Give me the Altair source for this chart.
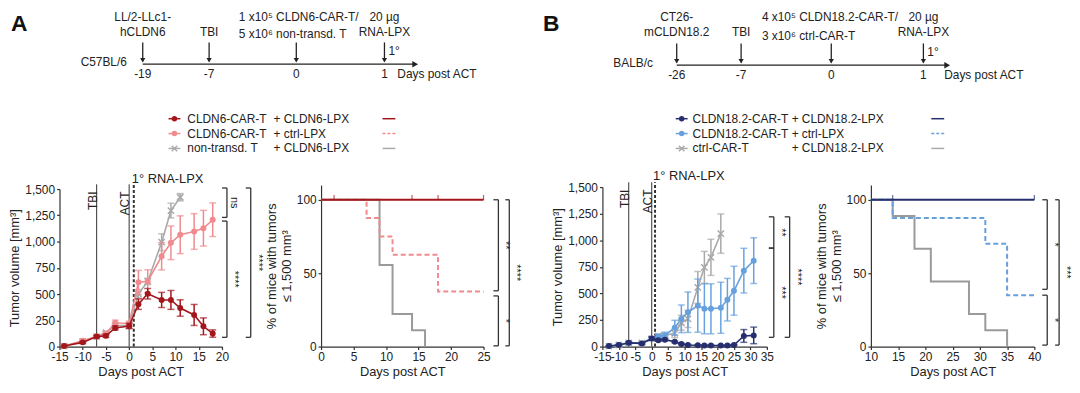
import altair as alt
import pandas as pd

FONT = "Liberation Sans"
INK = "#333333"
TXT = "#222222"
XPATH = "M-1,-1L1,1M-1,1L1,-1"

# ---------------- colours ----------------
DARKRED, PINK, GRAY = "#a3161c", "#f08a8f", "#a9a9a9"
NAVY, LBLUE = "#262e6e", "#66a1dd"
SGRAY = "#9a9a9a"

# ---------------- Panel A : tumour growth (mean +/- SEM) ----------------
a_days = [-14, -10, -7, -5, -3, 0, 2, 4, 7, 9, 11, 14, 16, 18]
a_cldn6_lpx_mean = [5, 40, 95, 102, 177, 196, 404, 503, 444, 444, 367, 301, 193, 124]
a_cldn6_lpx_sem = [4, 8, 10, 15, 20, 25, 50, 50, 72, 90, 78, 100, 80, 35]
a_ctrl_lpx_mean = [5, 56, 95, 125, 227, 217, 612, 621, 860, 988, 1065, 1096, 1127, 1208]
a_ctrl_lpx_sem = [4, 10, 10, 12, 25, 25, 113, 110, 130, 160, 180, 170, 170, 160]
a_nontr_days = [-14, -10, -7, -5, -3, 0, 2, 4, 7, 9, 11]
a_nontr_mean = [5, 50, 95, 133, 200, 200, 503, 620, 994, 1295, 1422]
a_nontr_sem = [4, 10, 10, 12, 20, 25, 40, 30, 80, 70, 35]

# Panel A : % mice with tumours <= 1,500 mm3
a_surv_cldn6_days = [0, 25]
a_surv_cldn6_pct = [100, 100]
a_surv_cldn6_censor = [2, 14, 18, 25]
a_surv_ctrl_days = [0, 7, 9, 11, 18, 25]
a_surv_ctrl_pct = [100, 87.5, 75, 62.5, 37.5, 37.5]
a_surv_nontr_days = [0, 9, 11, 14, 16]
a_surv_nontr_pct = [100, 55.6, 22.2, 11.1, 0]

# ---------------- Panel B ----------------
b_days = [-13, -10, -7, -3, 0, 2, 4, 7, 9, 11, 14, 16, 18, 21, 23, 25, 28, 31]
b_cldn_lpx_mean = [5, 15, 35, 30, 75, 60, 65, 45, 25, 15, 12, 10, 10, 10, 10, 15, 100, 105]
b_cldn_lpx_sem = [3, 5, 8, 8, 15, 10, 10, 8, 6, 5, 4, 4, 4, 4, 4, 5, 60, 78]
b_ctrl_lpx_mean = [5, 15, 35, 30, 75, 95, 105, 177, 261, 323, 385, 355, 355, 365, 441, 525, 714, 808]
b_ctrl_lpx_sem = [3, 5, 8, 8, 15, 20, 30, 70, 130, 190, 250, 235, 235, 240, 200, 230, 210, 215]
b_ctrlcar_days = [-13, -10, -7, -3, 0, 2, 4, 7, 9, 11, 14, 16, 18, 21]
b_ctrlcar_mean = [5, 15, 35, 35, 75, 100, 105, 124, 224, 260, 556, 745, 839, 1062]
b_ctrlcar_sem = [3, 5, 8, 8, 15, 15, 15, 40, 70, 80, 150, 150, 170, 185]

b_surv_cldn_days = [10, 40]
b_surv_cldn_pct = [100, 100]
b_surv_cldn_censor = [14, 40]
b_surv_ctrl_days = [10, 14, 31, 35, 40]
b_surv_ctrl_pct = [100, 87.5, 70, 35, 35]
b_surv_ctrlcar_days = [10, 14, 18, 21, 28, 31, 35]
b_surv_ctrlcar_pct = [100, 88.9, 66.7, 44.4, 22.2, 11.1, 0]

# treatment events marked in the growth plots
event_days = [-7, 0]
event_labels = ["TBI", "ACT"]
lpx_day = 1

# significance brackets: (top, bottom, label)
a_tum_inner = [(1510, 1230, "ns"), (1195, 88, "****")]
a_tum_outer = [(1510, 88, "****")]
b_tum_inner = [(1220, 926, "**"), (926, 87, "***")]
b_tum_outer = [(1220, 87, "****")]
a_surv_inner = [(100, 38, "**"), (34.5, 0.5, "*")]
a_surv_outer = [(100, 0.5, "****")]
b_surv_inner = [(100, 39, "*"), (35, 1, "*")]
b_surv_outer = [(100, 1, "***")]

# timelines
tl_a_days = [-19, -7, 0, 1]
tl_a_ticks = ["-19", "-7", "0", "1"]
tl_a_top = ["LL/2-LLc1-", "", "1 x10⁵ CLDN6-CAR-T/", "20 µg"]
tl_a_bot = ["hCLDN6", "TBI", "5 x10⁶ non-transd. T", "RNA-LPX"]
tl_b_days = [-26, -7, 0, 1]
tl_b_ticks = ["-26", "-7", "0", "1"]
tl_b_top = ["CT26-", "", "4 x10⁵ CLDN18.2-CAR-T/", "20 µg"]
tl_b_bot = ["mCLDN18.2", "TBI", "3 x10⁶ ctrl-CAR-T", "RNA-LPX"]

# legends
leg_a_g1 = ["CLDN6-CAR-T", "CLDN6-CAR-T", "non-transd. T"]
leg_a_g2 = ["+ CLDN6-LPX", "+ ctrl-LPX", "+ CLDN6-LPX"]
leg_b_g1 = ["CLDN18.2-CAR-T", "CLDN18.2-CAR-T", "ctrl-CAR-T"]
leg_b_g2 = ["+ CLDN18.2-LPX", "+ ctrl-LPX", "+ CLDN18.2-LPX"]

PH = 163  # plot height
HYPHEN = "replace('' + datum.value, '\u2212', '-')"


def series_df(days, mean, sem):
    return pd.DataFrame({"day": days, "mean": mean,
                         "lo": [max(m - s, 0) for m, s in zip(mean, sem)],
                         "hi": [m + s for m, s in zip(mean, sem)]})


def bracket_layers(brks, xl, arm, Y):
    out = []
    for top, bot, lab in brks:
        d = pd.DataFrame({"top": [top], "bot": [bot], "mid": [(top + bot) / 2], "lab": [lab]})
        arms = pd.DataFrame({"v": [top, bot]})
        out.append(alt.Chart(d).mark_rule(color=INK, strokeWidth=1.3).encode(
            x=alt.value(xl), y=Y("top"), y2="bot"))
        out.append(alt.Chart(arms).mark_rule(color=INK, strokeWidth=1.3).encode(
            x=alt.value(xl - arm), x2=alt.value(xl), y=Y("v")))
        out.append(alt.Chart(d).mark_text(angle=90, fontSize=11, color=TXT, baseline="middle", align="center").encode(
            x=alt.value(xl + 7), y=Y("mid"), text="lab:N"))
    return out


def tumor_chart(series, xdom, xrng, xticks, yrng, inner, outer, xin, xout, width):
    xsc = alt.Scale(domain=xdom, range=xrng, nice=False, zero=False)
    ysc = alt.Scale(domain=[0, 1500], range=yrng, nice=False, zero=False)
    xax = alt.Axis(values=xticks, title="Days post ACT", labelExpr=HYPHEN, labelFlush=False, labelOverlap=False)
    yax = alt.Axis(values=[0, 250, 500, 750, 1000, 1250, 1500], format=",.0f", title="Tumor volume [mm³]",
                   labelOverlap=False)

    def X(f):
        return alt.X(f"{f}:Q", scale=xsc, axis=xax)

    def Y(f):
        return alt.Y(f"{f}:Q", scale=ysc, axis=yax)

    ev = pd.DataFrame({"day": event_days, "lab": event_labels, "y0": 0, "y1": 1545, "ylab": 1495})
    lp = pd.DataFrame({"day": [lpx_day], "y0": [0], "y1": [1545], "ylab": [1562], "lab": ["1° RNA-LPX"]})
    layers = [
        alt.Chart(ev).mark_rule(color=INK, strokeWidth=1).encode(x=X("day"), y=Y("y0"), y2="y1"),
        alt.Chart(lp).mark_rule(color=INK, strokeWidth=2, strokeDash=[3, 2]).encode(x=X("day"), y=Y("y0"), y2="y1"),
        alt.Chart(ev).mark_text(angle=270, align="right", baseline="alphabetic", dx=-2, fontSize=12, color=TXT).encode(
            x=X("day"), y=Y("ylab"), text="lab:N"),
        alt.Chart(lp).mark_text(align="left", baseline="alphabetic", dx=-2, fontSize=13, color=TXT).encode(
            x=X("day"), y=Y("ylab"), text="lab:N"),
    ]
    for df, color, marker in series:
        base = alt.Chart(df)
        layers.append(base.mark_rule(color=color, strokeWidth=1.5).encode(x=X("day"), y=Y("lo"), y2="hi"))
        for f in ("lo", "hi"):
            layers.append(base.mark_tick(color=color, orient="horizontal", size=7, thickness=1.5).encode(
                x=X("day"), y=Y(f)))
        layers.append(base.mark_line(color=color, strokeWidth=1.6).encode(x=X("day"), y=Y("mean")))
        if marker == "x":
            layers.append(base.mark_point(shape=XPATH, filled=False, size=40, strokeWidth=1.5, color=color,
                                          opacity=1).encode(x=X("day"), y=Y("mean")))
        else:
            layers.append(base.mark_point(shape="circle", filled=True, size=36, color=color, opacity=1).encode(
                x=X("day"), y=Y("mean")))
    layers += bracket_layers(inner, xin, 5, Y)
    layers += bracket_layers(outer, xout, 5, Y)
    return alt.layer(*layers).properties(width=width, height=PH)


def surv_chart(curves, censor, xdom, xrng, xticks, inner, outer, xin, xout, width):
    xsc = alt.Scale(domain=xdom, range=xrng, nice=False, zero=False)
    ysc = alt.Scale(domain=[0, 110], range=[PH, 0], nice=False, zero=False)
    xax = alt.Axis(values=xticks, title="Days post ACT", labelExpr=HYPHEN, labelFlush=False, labelOverlap=False)
    yax = alt.Axis(values=[0, 50, 100], title=["% of mice with tumors", "≤ 1,500 mm³"], titlePadding=3)

    def X(f):
        return alt.X(f"{f}:Q", scale=xsc, axis=xax)

    def Y(f):
        return alt.Y(f"{f}:Q", scale=ysc, axis=yax)

    layers = []
    for days, pct, color, dash in curves:
        df = pd.DataFrame({"day": days, "pct": pct})
        kw = {"strokeDash": [5, 3]} if dash else {}
        layers.append(alt.Chart(df).mark_line(interpolate="step-after", color=color, strokeWidth=2, **kw).encode(
            x=X("day"), y=Y("pct")))
    cdays, ccolor = censor
    cdf = pd.DataFrame({"day": cdays, "pct": [101.5] * len(cdays)})
    layers.append(alt.Chart(cdf).mark_tick(orient="vertical", size=5, thickness=1.2, color=ccolor).encode(
        x=X("day"), y=Y("pct")))
    layers += bracket_layers(inner, xin, 5, Y)
    layers += bracket_layers(outer, xout, 4, Y)
    return alt.layer(*layers).properties(width=width, height=PH)


# ---------------- header (timelines, legends, panel letters) ----------------
def timeline_layers(days, ticks, top, bot, rng, strain, strain_x, end_x, line_y, left_dx, bot2_y, days_x):
    sc = alt.Scale(domain=days, range=rng, nice=False, zero=False)
    X = alt.X("day:Q", scale=sc, axis=None)
    d = pd.DataFrame({"day": days, "tick": ticks, "top": top, "bot": bot})
    centered = d[d.day != 0]
    left = d[d.day == 0]
    L = []
    L.append(alt.Chart(d.head(1)).mark_rule(color="#222", strokeWidth=1.3).encode(
        x=X, x2=alt.value(end_x - 4), y=alt.value(line_y)))
    L.append(alt.Chart(d.head(1)).mark_point(shape="triangle-right", filled=True, size=45, color="#222",
                                              opacity=1).encode(x=alt.value(end_x - 3), y=alt.value(line_y)))
    L.append(alt.Chart(d).mark_rule(color="#222", strokeWidth=1.3).encode(
        x=X, y=alt.value(line_y - 22), y2=alt.value(line_y - 3)))
    L.append(alt.Chart(d).mark_point(shape="triangle-down", filled=True, size=28, color="#222", opacity=1).encode(
        x=X, y=alt.value(line_y - 4)))
    L.append(alt.Chart(d).mark_text(fontSize=12, color=TXT, baseline="middle").encode(
        x=X, y=alt.value(line_y + 10), text="tick:N"))
    L.append(alt.Chart(centered).mark_text(fontSize=12, color=TXT, baseline="middle").encode(
        x=X, y=alt.value(7), text="top:N"))
    L.append(alt.Chart(centered).mark_text(fontSize=12, color=TXT, baseline="middle").encode(
        x=X, y=alt.value(23), text="bot:N"))
    L.append(alt.Chart(left).mark_text(fontSize=12, color=TXT, baseline="middle", align="left", dx=left_dx).encode(
        x=X, y=alt.value(7), text="top:N"))
    L.append(alt.Chart(left).mark_text(fontSize=12, color=TXT, baseline="middle", align="left", dx=left_dx).encode(
        x=X, y=alt.value(bot2_y), text="bot:N"))
    one = pd.DataFrame({"day": [days[-1]], "t": ["1°"]})
    L.append(alt.Chart(one).mark_text(fontSize=12, color=TXT, baseline="middle", align="left", dx=4).encode(
        x=X, y=alt.value(line_y - 13), text="t:N"))
    lab = pd.DataFrame({"t": [strain, "Days post ACT"]})
    L.append(alt.Chart(lab.head(1)).mark_text(fontSize=12, color=TXT, baseline="middle", align="right").encode(
        x=alt.value(strain_x), y=alt.value(line_y - 2), text="t:N"))
    L.append(alt.Chart(lab.tail(1)).mark_text(fontSize=12, color=TXT, baseline="middle", align="left").encode(
        x=alt.value(days_x), y=alt.value(line_y + 10), text="t:N"))
    return L


def legend_layers(g1, g2, colors, markers, dashes, mx, t1x, t2x, sx, rows_y):
    L = []
    for i in range(3):
        row = pd.DataFrame({"a": [g1[i]], "b": [g2[i]]})
        y = rows_y[i]
        c = colors[i]
        L.append(alt.Chart(row).mark_rule(color=c, strokeWidth=1.5).encode(
            x=alt.value(mx - 6), x2=alt.value(mx + 6), y=alt.value(y)))
        if markers[i] == "x":
            L.append(alt.Chart(row).mark_point(shape=XPATH, filled=False, size=30, strokeWidth=1.4, color=c,
                                               opacity=1).encode(x=alt.value(mx), y=alt.value(y)))
        else:
            L.append(alt.Chart(row).mark_point(shape="circle", filled=True, size=30, color=c, opacity=1).encode(
                x=alt.value(mx), y=alt.value(y)))
        L.append(alt.Chart(row).mark_text(fontSize=12, color=TXT, align="left", baseline="middle").encode(
            x=alt.value(t1x), y=alt.value(y), text="a:N"))
        L.append(alt.Chart(row).mark_text(fontSize=12, color=TXT, align="left", baseline="middle").encode(
            x=alt.value(t2x), y=alt.value(y), text="b:N"))
        kw = {"strokeDash": [3, 2]} if dashes[i] else {}
        L.append(alt.Chart(row).mark_rule(color=c, strokeWidth=1.5, **kw).encode(
            x=alt.value(sx), x2=alt.value(sx + 13), y=alt.value(y)))
    return L


letters = pd.DataFrame({"t": ["A", "B"]})
header_layers = []
header_layers += timeline_layers(tl_a_days, tl_a_ticks, tl_a_top, tl_a_bot, [84, 151, 239, 328],
                                 "C57BL/6", 68, 362, 55, -58, 25, 341)
header_layers += timeline_layers(tl_b_days, tl_b_ticks, tl_b_top, tl_b_bot, [623, 688, 779, 872],
                                 "BALB/c", 599, 899, 56, -70, 27, 893)
header_layers += legend_layers(leg_a_g1, leg_a_g2, [DARKRED, PINK, GRAY], ["o", "o", "x"], [False, True, False],
                               116, 129, 216, 326, [110, 125, 140])
header_layers += legend_layers(leg_b_g1, leg_b_g2, [NAVY, LBLUE, GRAY], ["o", "o", "x"], [False, True, False],
                               628, 639, 739, 880, [110, 125, 140])
header_layers.append(alt.Chart(letters.head(1)).mark_text(fontSize=23, fontWeight="bold", color="#111",
                                                          align="left", baseline="alphabetic").encode(
    x=alt.value(-49), y=alt.value(21), text="t:N"))
header_layers.append(alt.Chart(letters.tail(1)).mark_text(fontSize=23, fontWeight="bold", color="#111",
                                                          align="left", baseline="alphabetic").encode(
    x=alt.value(488), y=alt.value(21), text="t:N"))
header = alt.layer(*header_layers).resolve_scale(x="independent").properties(width=984, height=177)

# ---------------- plots ----------------
tA = tumor_chart([(series_df(a_nontr_days, a_nontr_mean, a_nontr_sem), GRAY, "x"),
                  (series_df(a_days, a_ctrl_lpx_mean, a_ctrl_lpx_sem), PINK, "o"),
                  (series_df(a_days, a_cldn6_lpx_mean, a_cldn6_lpx_sem), DARKRED, "o")],
                 [-15, 20], [0, 164], list(range(-15, 21, 5)), [PH, 4],
                 a_tum_inner, a_tum_outer, 169, 193, 264)
sA = surv_chart([(a_surv_nontr_days, a_surv_nontr_pct, SGRAY, False),
                 (a_surv_ctrl_days, a_surv_ctrl_pct, PINK, True),
                 (a_surv_cldn6_days, a_surv_cldn6_pct, DARKRED, False)],
                (a_surv_cldn6_censor, DARKRED),
                [0, 25], [0, 164], list(range(0, 26, 5)),
                a_surv_inner, a_surv_outer, 179, 190, 284)
tB = tumor_chart([(series_df(b_ctrlcar_days, b_ctrlcar_mean, b_ctrlcar_sem), GRAY, "x"),
                  (series_df(b_days, b_ctrl_lpx_mean, b_ctrl_lpx_sem), LBLUE, "o"),
                  (series_df(b_days, b_cldn_lpx_mean, b_cldn_lpx_sem), NAVY, "o")],
                 [-15, 35], [0, 166], list(range(-15, 36, 5)), [PH, 2],
                 b_tum_inner, b_tum_outer, 173, 189, 271)
sB = surv_chart([(b_surv_ctrlcar_days, b_surv_ctrlcar_pct, SGRAY, False),
                 (b_surv_ctrl_days, b_surv_ctrl_pct, LBLUE, True),
                 (b_surv_cldn_days, b_surv_cldn_pct, NAVY, False)],
                (b_surv_cldn_censor, NAVY),
                [10, 40], [0, 165], list(range(10, 41, 5)),
                b_surv_inner, b_surv_outer, 178, 190, 165)

row = alt.hconcat(tA, sA, tB, sB, spacing=0, bounds="flush")

chart = alt.vconcat(header, row, spacing=0, bounds="flush", padding=0).configure_view(
    stroke=None
).configure_axis(
    domainColor=INK, tickColor=INK, labelColor=TXT, titleColor=TXT, labelFont=FONT, titleFont=FONT,
    labelFontSize=12, titleFontSize=13, titleFontWeight="normal", grid=False, tickSize=3,
    labelPadding=2, titlePadding=3, domainWidth=1.2, tickWidth=1.2
).configure_text(font=FONT)

chart.save("out.html", embed_options={"renderer": "svg", "actions": False})
